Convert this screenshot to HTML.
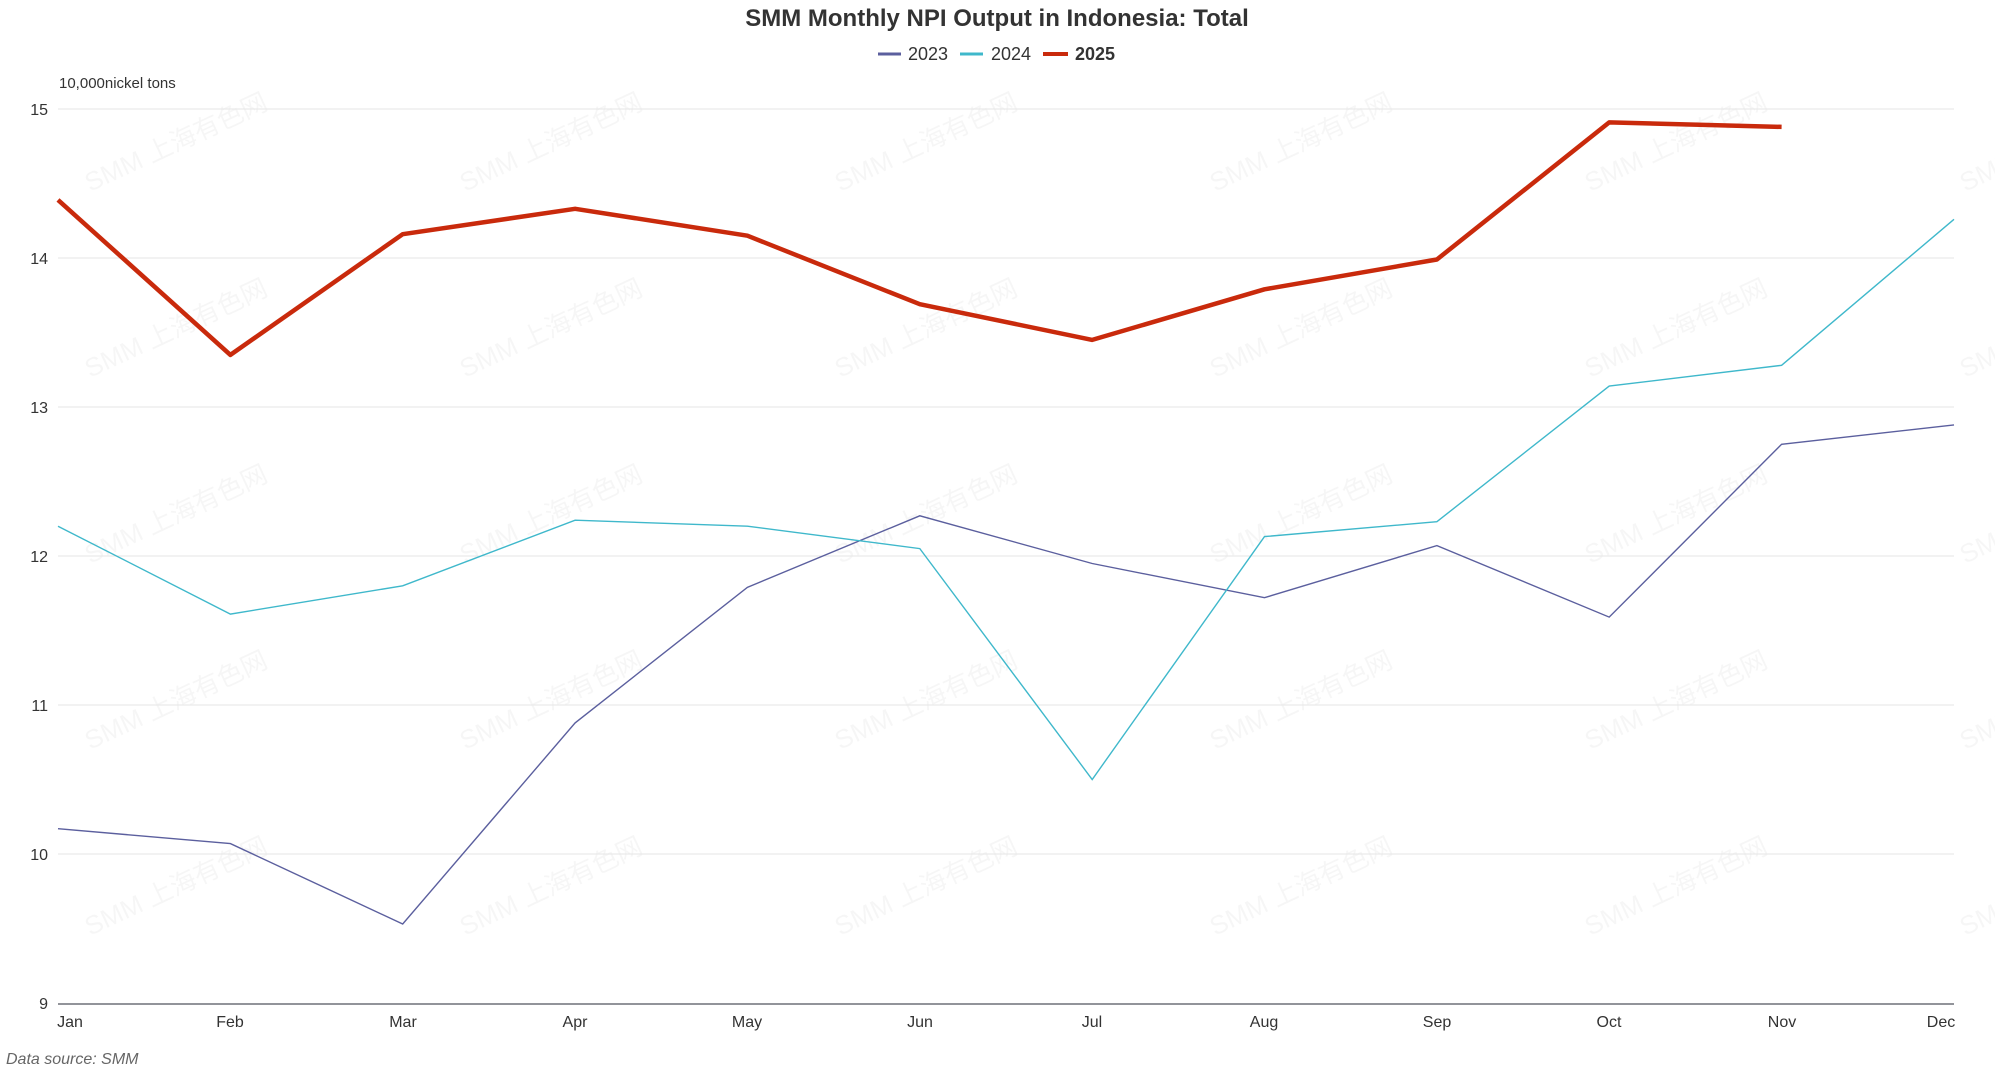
<!DOCTYPE html>
<html><head><meta charset="utf-8"><style>
html,body{margin:0;padding:0;background:#fff;}
svg{display:block;font-family:"Liberation Sans","Noto Sans CJK SC",sans-serif;}
</style></head><body>
<svg width="1995" height="1073" viewBox="0 0 1995 1073" xmlns="http://www.w3.org/2000/svg">
<g fill="#000" fill-opacity="0.035" font-size="26">
<text transform="translate(90,192) rotate(-25)">SMM 上海有色网</text>
<text transform="translate(465,192) rotate(-25)">SMM 上海有色网</text>
<text transform="translate(840,192) rotate(-25)">SMM 上海有色网</text>
<text transform="translate(1215,192) rotate(-25)">SMM 上海有色网</text>
<text transform="translate(1590,192) rotate(-25)">SMM 上海有色网</text>
<text transform="translate(1965,192) rotate(-25)">SMM 上海有色网</text>
<text transform="translate(90,378) rotate(-25)">SMM 上海有色网</text>
<text transform="translate(465,378) rotate(-25)">SMM 上海有色网</text>
<text transform="translate(840,378) rotate(-25)">SMM 上海有色网</text>
<text transform="translate(1215,378) rotate(-25)">SMM 上海有色网</text>
<text transform="translate(1590,378) rotate(-25)">SMM 上海有色网</text>
<text transform="translate(1965,378) rotate(-25)">SMM 上海有色网</text>
<text transform="translate(90,564) rotate(-25)">SMM 上海有色网</text>
<text transform="translate(465,564) rotate(-25)">SMM 上海有色网</text>
<text transform="translate(840,564) rotate(-25)">SMM 上海有色网</text>
<text transform="translate(1215,564) rotate(-25)">SMM 上海有色网</text>
<text transform="translate(1590,564) rotate(-25)">SMM 上海有色网</text>
<text transform="translate(1965,564) rotate(-25)">SMM 上海有色网</text>
<text transform="translate(90,750) rotate(-25)">SMM 上海有色网</text>
<text transform="translate(465,750) rotate(-25)">SMM 上海有色网</text>
<text transform="translate(840,750) rotate(-25)">SMM 上海有色网</text>
<text transform="translate(1215,750) rotate(-25)">SMM 上海有色网</text>
<text transform="translate(1590,750) rotate(-25)">SMM 上海有色网</text>
<text transform="translate(1965,750) rotate(-25)">SMM 上海有色网</text>
<text transform="translate(90,936) rotate(-25)">SMM 上海有色网</text>
<text transform="translate(465,936) rotate(-25)">SMM 上海有色网</text>
<text transform="translate(840,936) rotate(-25)">SMM 上海有色网</text>
<text transform="translate(1215,936) rotate(-25)">SMM 上海有色网</text>
<text transform="translate(1590,936) rotate(-25)">SMM 上海有色网</text>
<text transform="translate(1965,936) rotate(-25)">SMM 上海有色网</text>
</g>
<text x="997" y="26" text-anchor="middle" font-size="24" font-weight="bold" fill="#333">SMM Monthly NPI Output in Indonesia: Total</text>
<g font-size="18" fill="#333">
<line x1="878" y1="54" x2="901" y2="54" stroke="#5b5f9e" stroke-width="3"/>
<text x="908" y="60">2023</text>
<line x1="960" y1="54" x2="983" y2="54" stroke="#3fb8cb" stroke-width="3"/>
<text x="991" y="60">2024</text>
<line x1="1043" y1="54" x2="1068" y2="54" stroke="#c92a0c" stroke-width="4"/>
<text x="1075" y="60" font-weight="bold">2025</text>
</g>
<text x="59" y="88" font-size="15" fill="#333">10,000nickel tons</text>
<g stroke="#e6e6e6" stroke-width="1">
<line x1="58" y1="109" x2="1954" y2="109"/>
<line x1="58" y1="258" x2="1954" y2="258"/>
<line x1="58" y1="407" x2="1954" y2="407"/>
<line x1="58" y1="556" x2="1954" y2="556"/>
<line x1="58" y1="705" x2="1954" y2="705"/>
<line x1="58" y1="854" x2="1954" y2="854"/>
</g>
<line x1="58" y1="1004" x2="1954" y2="1004" stroke="#6e7079" stroke-width="1.5"/>
<g font-size="16" fill="#333" text-anchor="end">
<text x="48" y="115">15</text>
<text x="48" y="264">14</text>
<text x="48" y="413">13</text>
<text x="48" y="562">12</text>
<text x="48" y="711">11</text>
<text x="48" y="860">10</text>
<text x="48" y="1009">9</text>
</g>
<g font-size="16" fill="#333" text-anchor="middle">
<text x="70" y="1027">Jan</text>
<text x="230" y="1027">Feb</text>
<text x="403" y="1027">Mar</text>
<text x="575" y="1027">Apr</text>
<text x="747" y="1027">May</text>
<text x="920" y="1027">Jun</text>
<text x="1092" y="1027">Jul</text>
<text x="1264" y="1027">Aug</text>
<text x="1437" y="1027">Sep</text>
<text x="1609" y="1027">Oct</text>
<text x="1782" y="1027">Nov</text>
<text x="1941" y="1027">Dec</text>
</g>
<polyline fill="none" stroke="#5b5f9e" stroke-width="1.4" points="58,828.7 230.4,843.6 402.7,924 575.1,722.9 747.4,587.3 919.8,515.8 1092.2,563.5 1264.5,597.7 1436.9,545.6 1609.2,617.1 1781.6,444.3 1954,424.9"/>
<polyline fill="none" stroke="#3fb8cb" stroke-width="1.4" points="58,526.2 230.4,614.1 402.7,585.8 575.1,520.2 747.4,526.2 919.8,548.6 1092.2,779.5 1264.5,536.6 1436.9,521.7 1609.2,386.1 1781.6,365.3 1954,219.3"/>
<polyline fill="none" stroke="#c92a0c" stroke-width="4.5" stroke-linejoin="round" points="58,199.9 230.4,354.9 402.7,234.2 575.1,208.8 747.4,235.7 919.8,304.2 1092.2,339.9 1264.5,289.3 1436.9,259.5 1609.2,122.4 1781.6,126.9"/>
<text x="6" y="1064" font-size="16" font-style="italic" fill="#666">Data source:  SMM</text>
</svg>
</body></html>
